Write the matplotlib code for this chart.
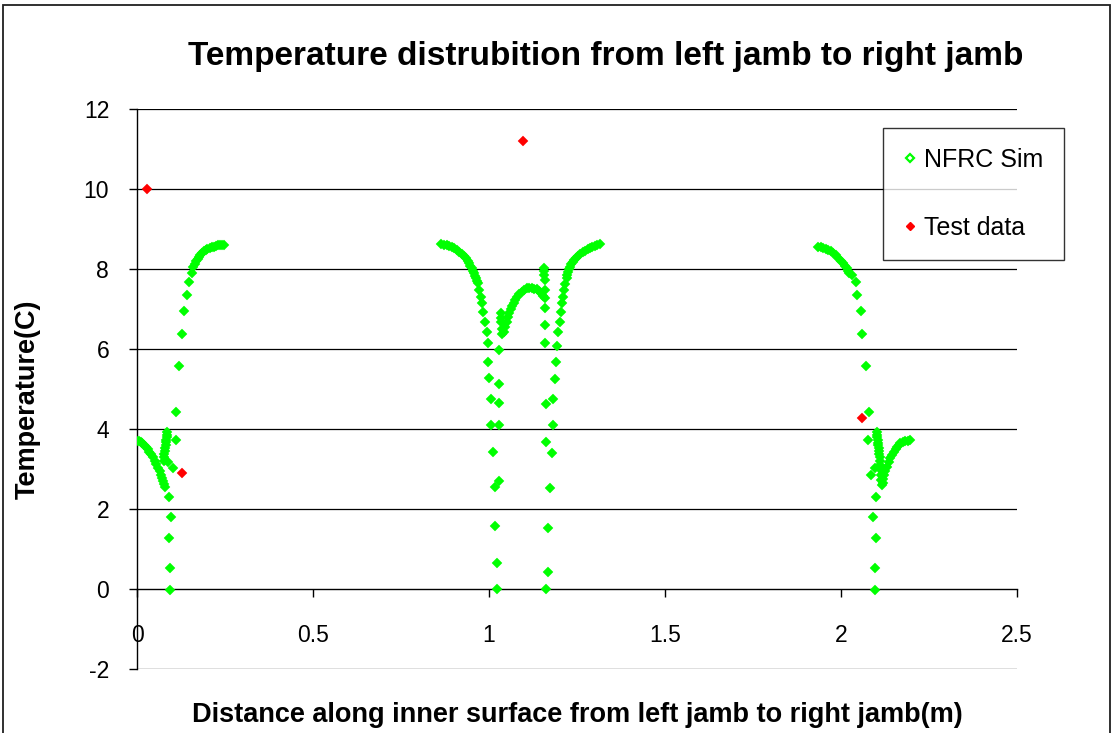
import matplotlib
matplotlib.use("Agg")
import matplotlib.pyplot as plt
from matplotlib.lines import Line2D
from matplotlib.patches import Rectangle

plt.rcParams['font.family'] = ['Liberation Sans', 'DejaVu Sans']
plt.rcParams['axes.unicode_minus'] = False

# ---- NFRC simulation, left jamb section ----
left_x = [0.000, 0.005, 0.010, 0.015, 0.020, 0.025, 0.030, 0.035, 0.040, 0.045,
          0.050, 0.055, 0.060, 0.064, 0.068, 0.072, 0.075, 0.078, 0.080,
          0.086, 0.085, 0.084, 0.083, 0.082, 0.081, 0.080, 0.079, 0.078, 0.077, 0.076,
          0.110, 0.089, 0.103, 0.091, 0.098, 0.091, 0.095, 0.095,
          0.110, 0.119, 0.128, 0.134, 0.142, 0.148, 0.155,
          0.160, 0.164, 0.168, 0.172, 0.176, 0.180, 0.185, 0.190, 0.195, 0.200,
          0.206, 0.212, 0.218, 0.224, 0.230, 0.236, 0.242, 0.247]
left_y = [3.70, 3.69, 3.68, 3.65, 3.61, 3.56, 3.50, 3.43, 3.37, 3.30,
          3.21, 3.12, 3.03, 2.95, 2.86, 2.77, 2.70, 2.62, 2.56,
          3.93, 3.86, 3.80, 3.73, 3.67, 3.60, 3.53, 3.45, 3.37, 3.29, 3.20,
          3.72, 3.18, 3.03, 2.31, 1.79, 1.27, 0.53, -0.02,
          4.43, 5.57, 6.38, 6.94, 7.36, 7.67, 7.89,
          8.05, 8.12, 8.19, 8.25, 8.30, 8.35, 8.40, 8.44, 8.47, 8.50,
          8.52, 8.54, 8.56, 8.57, 8.59, 8.60, 8.61, 8.60]

# ---- NFRC simulation, centre mullion section ----
mid_x = [0.865, 0.872, 0.880, 0.887, 0.894, 0.901, 0.908, 0.915, 0.922, 0.928,
         0.934, 0.939, 0.943, 0.947, 0.951, 0.954, 0.957, 0.960, 0.963, 0.966,
         0.968, 0.972, 0.976, 0.980, 0.984, 0.989, 0.993, 0.998,
         0.998, 1.001, 1.006, 1.006, 1.012, 1.017, 1.017, 1.022, 1.022,
         1.028, 1.028, 1.028, 1.028, 1.028,
         1.034, 1.034, 1.034, 1.036, 1.038, 1.042, 1.046, 1.050, 1.054, 1.058,
         1.062, 1.066, 1.070, 1.075, 1.080, 1.086, 1.093, 1.100, 1.107, 1.114,
         1.121, 1.128, 1.135, 1.142, 1.149, 1.154, 1.159,
         1.157, 1.157, 1.157, 1.158, 1.159, 1.159, 1.159, 1.159,
         1.162, 1.162, 1.169, 1.169, 1.162,
         1.178, 1.173,
         1.183, 1.183, 1.188, 1.190, 1.192, 1.197, 1.202, 1.204, 1.206, 1.211,
         1.213, 1.216, 1.221, 1.223, 1.225, 1.228, 1.230, 1.234, 1.238, 1.242,
         1.247, 1.253, 1.259, 1.266, 1.273, 1.280, 1.287, 1.294, 1.301, 1.308,
         1.315]
mid_y = [8.62, 8.61, 8.60, 8.58, 8.56, 8.52, 8.48, 8.43, 8.38, 8.32,
         8.27, 8.20, 8.14, 8.08, 8.02, 7.96, 7.89, 7.83, 7.77, 7.70,
         7.64, 7.48, 7.31, 7.14, 6.93, 6.67, 6.42, 6.14,
         5.68, 5.27, 4.74, 4.10, 3.42, 2.56, 1.58, 0.64, -0.01,
         5.98, 5.13, 4.66, 4.10, 2.71,
         6.91, 6.78, 6.68, 6.50, 6.38, 6.42, 6.55, 6.68, 6.80, 6.91,
         7.00, 7.08, 7.15, 7.23, 7.31, 7.37, 7.43, 7.48, 7.52, 7.53,
         7.53, 7.51, 7.49, 7.45, 7.39, 7.33, 7.27,
         8.02, 7.94, 7.86, 7.73, 7.48, 7.02, 6.60, 6.15,
         4.63, 3.68, 1.53, 0.42, -0.01,
         3.39, 2.52,
         4.10, 4.74, 5.25, 5.68, 6.07, 6.43, 6.68, 6.92, 7.14, 7.31,
         7.48, 7.62, 7.77, 7.85, 7.92, 8.00, 8.06, 8.12, 8.18, 8.23,
         8.28, 8.33, 8.38, 8.42, 8.46, 8.49, 8.52, 8.55, 8.58, 8.60,
         8.62]

# ---- NFRC simulation, right jamb section ----
right_x = [1.936, 1.943, 1.950, 1.957, 1.964, 1.971, 1.978, 1.985, 1.992, 2.000,
           2.007, 2.012, 2.016, 2.020, 2.023,
           2.030, 2.042, 2.046, 2.056, 2.061, 2.070, 2.080,
           2.078, 2.097, 2.085, 2.099, 2.090, 2.099, 2.096, 2.096,
           2.101, 2.102, 2.103, 2.104, 2.105, 2.106, 2.107, 2.108, 2.109, 2.110, 2.111,
           2.112, 2.113, 2.114, 2.115, 2.116,
           2.118, 2.120, 2.122, 2.126, 2.131, 2.135, 2.140, 2.145, 2.150, 2.155,
           2.159, 2.164, 2.169, 2.176, 2.183, 2.190, 2.196]
right_y = [8.56, 8.55, 8.53, 8.51, 8.48, 8.44, 8.39, 8.34, 8.28, 8.21,
           8.14, 8.08, 8.02, 7.96, 7.89,
           7.86, 7.68, 7.36, 6.94, 6.38, 5.57, 4.43,
           3.72, 3.02, 2.85, 2.31, 1.79, 1.27, 0.53, -0.02,
           3.93, 3.86, 3.80, 3.73, 3.66, 3.59, 3.52, 3.45, 3.37, 3.29, 3.20,
           3.10, 2.98, 2.86, 2.72, 2.60,
           2.65, 2.75, 2.85, 2.96, 3.06, 3.17, 3.27, 3.36, 3.43, 3.50,
           3.56, 3.61, 3.64, 3.67, 3.70, 3.71, 3.72]

# ---- measured test data ----
test_x = [0.028, 0.127, 1.097, 2.060]
test_y = [10.0, 2.90, 11.2, 4.28]

x_ticks = [0, 0.5, 1, 1.5, 2, 2.5]
x_tick_labels = ['0', '0.5', '1', '1.5', '2', '2.5']
y_ticks = [-2, 0, 2, 4, 6, 8, 10, 12]

GREEN = '#00FF00'
RED = '#FF0000'

W, H = 1113, 733
fig = plt.figure(figsize=(W / 100, H / 100), dpi=100)
fig.patch.set_facecolor('white')

# chart-area border
fig.patches.append(Rectangle((3 / W, -0.02), (1110 - 3) / W, 1.02 - 5 / H,
                             transform=fig.transFigure, fill=False,
                             edgecolor='#202020', linewidth=1.3))

ax = fig.add_axes([137 / W, 1 - 669 / H, (1017 - 137) / W, (669 - 109) / H])
ax.set_xlim(0, 2.5)
ax.set_ylim(-2, 12)

for v in y_ticks:
    if v != 0:
        ax.axhline(v, color='black', linewidth=0.9, zorder=1)

ax.spines['top'].set_visible(False)
ax.spines['right'].set_visible(False)
ax.spines['bottom'].set_position(('data', 0))
ax.spines['bottom'].set_linewidth(1.0)
ax.spines['left'].set_linewidth(1.0)

ax.set_xticks(x_ticks)
ax.set_xticklabels(x_tick_labels)
ax.set_yticks(y_ticks)
ax.tick_params(axis='x', direction='out', length=6, width=1, pad=19, labelsize=16.5)
ax.tick_params(axis='y', direction='out', length=6, width=1, pad=14, labelsize=16.5)

for xs, ys in ((left_x, left_y), (mid_x, mid_y), (right_x, right_y)):
    ax.plot(xs, ys, linestyle='none', marker='D', markersize=4.9,
            markerfacecolor=GREEN, markeredgecolor=GREEN, markeredgewidth=0.3,
            zorder=3)
ax.plot(test_x, test_y, linestyle='none', marker='D', markersize=4.6,
        markerfacecolor=RED, markeredgecolor=RED, markeredgewidth=0.3, zorder=4)

handles = [
    Line2D([], [], linestyle='none', marker='D', markersize=4,
           markerfacecolor='white', markeredgecolor=GREEN, markeredgewidth=1.6),
    Line2D([], [], linestyle='none', marker='D', markersize=4,
           markerfacecolor=RED, markeredgecolor=RED),
]
leg = ax.legend(handles, ['NFRC Sim', 'Test data'],
                loc='upper left', bbox_to_anchor=(883 / W, 1 - 128 / H),
                bbox_transform=fig.transFigure, borderaxespad=0,
                frameon=True, fancybox=False, shadow=False, fontsize=18,
                handlelength=0.52, handletextpad=0.34, labelspacing=1.75,
                borderpad=0.8)
leg.get_frame().set_edgecolor('black')
leg.get_frame().set_linewidth(1.0)

fig.text(606 / W, 1 - 57 / H, 'Temperature distrubition from left jamb to right jamb',
         ha='center', va='center', fontsize=24, fontweight='bold')
fig.text(28 / W, 1 - 399 / H, 'Temperature(C)', ha='center', va='center',
         rotation=90, fontsize=19.5, fontweight='bold')
fig.text(577 / W, 1 - 715 / H,
         'Distance along inner surface from left jamb to right jamb(m)',
         ha='center', va='center', fontsize=19.5, fontweight='bold')

fig.savefig('out.png', dpi=100, facecolor='white')
